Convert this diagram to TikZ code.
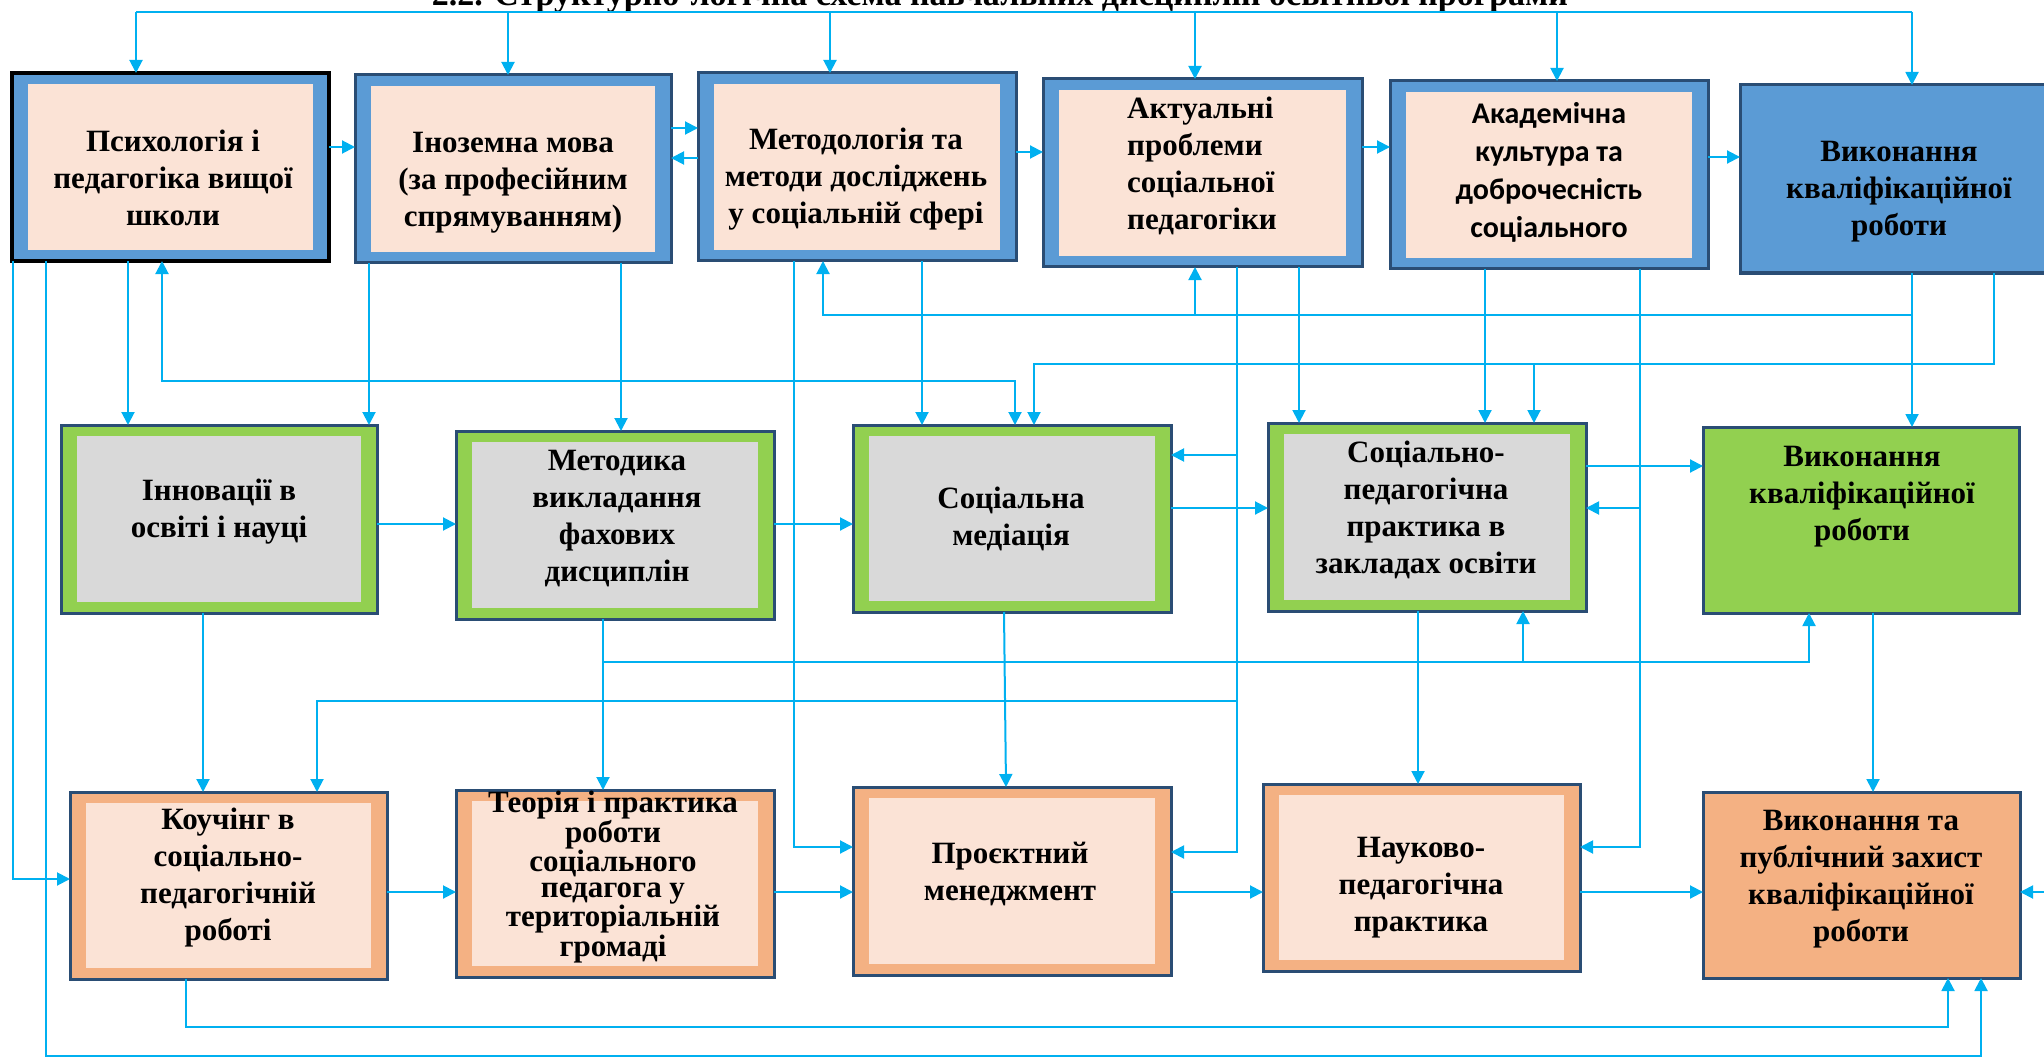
\documentclass[tikz,border=0pt]{standalone}
\usepackage{fontspec}
\setmainfont{Liberation Serif}
\newfontfamily\sansfam{Carlito}
\usetikzlibrary{arrows.meta}

\definecolor{arrc}{HTML}{00B0F0}
\definecolor{navy}{HTML}{2A4D74}
\definecolor{bluef}{HTML}{5B9BD5}
\definecolor{peach}{HTML}{FBE3D6}
\definecolor{greenf}{HTML}{92D050}
\definecolor{greyf}{HTML}{D9D9D9}
\definecolor{orangef}{HTML}{F4B183}

\begin{document}
\begin{tikzpicture}[x=1pt,y=-1pt,
  base/.style={rectangle, draw=navy, line width=3pt, inner sep=0pt, outer sep=0pt},
  framed/.style 2 args={base, fill=#1, path picture={\fill[#2] ([shift={(16pt,-11pt)}]path picture bounding box.north west) rectangle ([shift={(-16pt,11pt)}]path picture bounding box.south east);}},
  bbox/.style={framed={bluef}{peach}},
  gbox/.style={framed={greenf}{greyf}},
  obox/.style={framed={orangef}{peach}},
  bsolid/.style={base, fill=bluef},
  gsolid/.style={base, fill=greenf},
  osolid/.style={base, fill=orangef},
  txt/.style={align=center, inner sep=0pt, font=\fontsize{31}{37}\selectfont\bfseries},
  arr/.style={draw=arrc, line width=2pt, -{Triangle[length=13pt,width=13pt]}},
  arrb/.style={draw=arrc, line width=2pt, {Triangle[length=13pt,width=13pt]}-{Triangle[length=13pt,width=13pt]}},
  ln/.style={draw=arrc, line width=2pt}
]
\useasboundingbox (0,0) rectangle (2044,1059);

% title (cut by the page top)
\node[font=\fontsize{34}{40}\selectfont\bfseries, anchor=base, inner sep=0pt] (title) at (1000,6) {2.2. Структурно-логічна схема навчальних дисциплін освітньої програми};

% top row
\node[bbox, draw=black, line width=3.5pt, minimum width=317pt, minimum height=188pt] (psy) at (170.5,167) {};
\node[bbox, minimum width=316pt, minimum height=188pt] (ino) at (513,169) {};
\node[bbox, minimum width=318pt, minimum height=188pt] (met) at (857,167) {};
\node[bbox, minimum width=319pt, minimum height=188pt] (akt) at (1202.5,173) {};
\node[bbox, minimum width=318pt, minimum height=188pt] (aka) at (1549,175) {};
\node[bsolid, minimum width=308pt, minimum height=188pt] (vkr1) at (1894,179) {};

% middle row
\node[gbox, minimum width=316pt, minimum height=188pt] (inn) at (219,519) {};
\node[gbox, minimum width=318pt, minimum height=188pt] (mvf) at (615,525) {};
\node[gbox, minimum width=318pt, minimum height=187pt] (smed) at (1012,518.5) {};
\node[gbox, minimum width=318pt, minimum height=188pt] (spp) at (1427,517) {};
\node[gsolid, minimum width=316pt, minimum height=186pt] (vkr2) at (1861,520) {};

% bottom row
\node[obox, minimum width=317pt, minimum height=187pt] (kou) at (228.5,885.5) {};
\node[obox, minimum width=318pt, minimum height=187pt] (teo) at (615,883.5) {};
\node[obox, minimum width=318pt, minimum height=188pt] (pro) at (1012,881) {};
\node[obox, minimum width=317pt, minimum height=187pt] (nau) at (1421.5,877.5) {};
\node[osolid, minimum width=317pt, minimum height=186pt] (vkr3) at (1861.5,885) {};

% texts
\node[txt] (psyT) at (173,178) {Психологія і\\педагогіка вищої\\школи};
\node[txt] (inoT) at (513,183) {Іноземна мова\\(за професійним\\спрямуванням)};
\node[txt] (metT) at (856,179) {Методологія та\\методи досліджень\\у соціальній сфері};
\node[txt, align=left] (aktT) at (1202,166) {Актуальні\\проблеми\\соціальної\\педагогіки};
\node[txt, font=\sansfam\fontsize{30}{38}\selectfont\bfseries] (akaT) at (1549,172) {Академічна\\культура та\\доброчесність\\соціального};
\node[txt] (vkr1T) at (1899,192) {Виконання\\кваліфікаційної\\роботи};
\node[txt] (innT) at (219,512) {Інновації в\\освіті і науці};
\node[txt] (mvfT) at (617,519) {Методика\\викладання\\фахових\\дисциплін};
\node[txt] (smedT) at (1011,519) {Соціальна\\медіація};
\node[txt] (sppT) at (1426,510) {Соціально-\\педагогічна\\практика в\\закладах освіти};
\node[txt] (vkr2T) at (1862,497) {Виконання\\кваліфікаційної\\роботи};
\node[txt] (kouT) at (228,878) {Коучінг в\\соціально-\\педагогічній\\роботі};
\node[txt, font=\fontsize{31}{26}\selectfont\bfseries] (teoT) at (613,877) {Теорія і практика\\роботи\\соціального\\педагога у\\територіальній\\громаді};
\node[txt] (proT) at (1010,874) {Проєктний\\менеджмент};
\node[txt] (nauT) at (1421,888) {Науково-\\педагогічна\\практика};
\node[txt] (vkr3T) at (1861,879) {Виконання та\\публічний захист\\кваліфікаційної\\роботи};

% top bus
\draw[ln] ([xshift=-34.5pt,yshift=61pt]psy.north) -- ([xshift=18pt,yshift=73pt]vkr1.north);
\draw[arr] ([xshift=-34.5pt,yshift=61pt]psy.north) -- ([xshift=-34.5pt]psy.north);
\draw[arr] ([xshift=-5pt,yshift=63pt]ino.north) -- ([xshift=-5pt]ino.north);
\draw[arr] ([xshift=-27pt,yshift=61pt]met.north) -- ([xshift=-27pt]met.north);
\draw[arr] ([xshift=-7.5pt,yshift=67pt]akt.north) -- ([xshift=-7.5pt]akt.north);
\draw[arr] ([xshift=8pt,yshift=69pt]aka.north) -- ([xshift=8pt]aka.north);
\draw[arr] ([xshift=18pt,yshift=73pt]vkr1.north) -- ([xshift=18pt]vkr1.north);

% top row horizontals
\draw[arr] (psy.east |- 0,147) -- (ino.west |- 0,147);
\draw[arr] (ino.east |- 0,128) -- (met.west |- 0,128);
\draw[arr] (met.west |- 0,158) -- (ino.east |- 0,158);
\draw[arr] (met.east |- 0,152) -- (akt.west |- 0,152);
\draw[arr] (akt.east |- 0,147) -- (aka.west |- 0,147);
\draw[arr] (aka.east |- 0,157) -- (vkr1.west |- 0,157);

% from top row downward
\draw[arr] ([xshift=-157.5pt]psy.south) |- ([yshift=6.5pt]kou.west);
\draw[arr] ([xshift=-124.5pt]psy.south) -- ([xshift=-124.5pt,yshift=-795pt]psy.south) -| ([xshift=119.5pt]vkr3.south);
\draw[arr] ([xshift=-42.5pt]psy.south) -- ([xshift=-91pt]inn.north);
\draw[arrb] ([xshift=-8.5pt]psy.south) -- ([xshift=-8.5pt,yshift=-120pt]psy.south) -| ([xshift=3pt]smed.north);
\draw[arr] ([xshift=-144pt]ino.south) -- ([xshift=150pt]inn.north);
\draw[arr] ([xshift=108pt]ino.south) -- ([xshift=6pt]mvf.north);
\draw[arr] ([xshift=-63pt]met.south) |- ([yshift=34pt]pro.west);
\draw[arr] ([xshift=18pt]vkr1.south) -- ([xshift=51pt]vkr2.north);
\draw[arr] ([xshift=18pt,yshift=-42pt]vkr1.south) -| ([xshift=-34pt]met.south);
\draw[arr] ([xshift=-7.5pt,yshift=-48pt]akt.south) -- ([xshift=-7.5pt]akt.south);
\draw[arr] ([xshift=65pt]met.south) -- ([xshift=-90pt]smed.north);
\draw[arr] ([xshift=34.5pt]akt.south) |- ([yshift=29pt]pro.east);
\draw[arr] ([xshift=34.5pt,yshift=-188pt]akt.south) -- ([yshift=63.5pt]smed.east);
\draw[arr] ([xshift=34.5pt,yshift=-434pt]akt.south) -| ([xshift=88.5pt]kou.north);
\draw[arr] ([xshift=96.5pt]akt.south) -- ([xshift=-128pt]spp.north);
\draw[arr] ([xshift=-64pt]aka.south) -- ([xshift=58pt]spp.north);
\draw[arr] ([xshift=91pt]aka.south) |- ([yshift=30.5pt]nau.east);
\draw[arr] ([xshift=91pt,yshift=-239pt]aka.south) -- ([yshift=9pt]spp.east);
\draw[arr] ([xshift=100pt]vkr1.south) -- ([xshift=100pt,yshift=-91pt]vkr1.south) -| ([xshift=22pt]smed.north);
\draw[arr] ([xshift=100pt,yshift=-91pt]vkr1.south) -| ([xshift=107pt]spp.north);

% middle row horizontals
\draw[arr] ([yshift=-5pt]inn.east) -- ([yshift=1pt]mvf.west);
\draw[arr] ([yshift=1pt]mvf.east) -- ([yshift=-5.5pt]smed.west);
\draw[arr] ([yshift=10.5pt]smed.east) -- ([yshift=9pt]spp.west);
\draw[arr] ([yshift=51pt]spp.east) -- ([yshift=54pt]vkr2.west);

% middle to bottom
\draw[arr] ([xshift=-16pt]inn.south) -- ([xshift=-25.5pt]kou.north);
\draw[arr] ([xshift=-12pt]mvf.south) -- ([xshift=-12pt]teo.north);
\draw[arr] ([xshift=-12pt,yshift=-43pt]mvf.south) -| ([xshift=-52pt]vkr2.south);
\draw[arr] ([xshift=96pt,yshift=-51pt]spp.south) -- ([xshift=96pt]spp.south);
\draw[arr] ([xshift=-8pt]smed.south) -- ([xshift=-6pt]pro.north);
\draw[arr] ([xshift=-9pt]spp.south) -- ([xshift=-3.5pt]nau.north);
\draw[arr] ([xshift=12pt]vkr2.south) -- ([xshift=11.5pt]vkr3.north);

% bottom row horizontals
\draw[arr] ([yshift=-6.5pt]kou.east) -- ([yshift=-8.5pt]teo.west);
\draw[arr] ([yshift=-8.5pt]teo.east) -- ([yshift=-11pt]pro.west);
\draw[arr] ([yshift=-11pt]pro.east) -- ([yshift=-14.5pt]nau.west);
\draw[arr] ([yshift=-14.5pt]nau.east) -- ([yshift=-7pt]vkr3.west);
\coordinate (rin) at (2050,892);
\draw[arr] (rin) -- ([yshift=-7pt]vkr3.east);
\draw[arr] ([xshift=-42.5pt]kou.south) -- ([xshift=-42.5pt,yshift=-48pt]kou.south) -| ([xshift=86.5pt]vkr3.south);

\end{tikzpicture}
\end{document}
